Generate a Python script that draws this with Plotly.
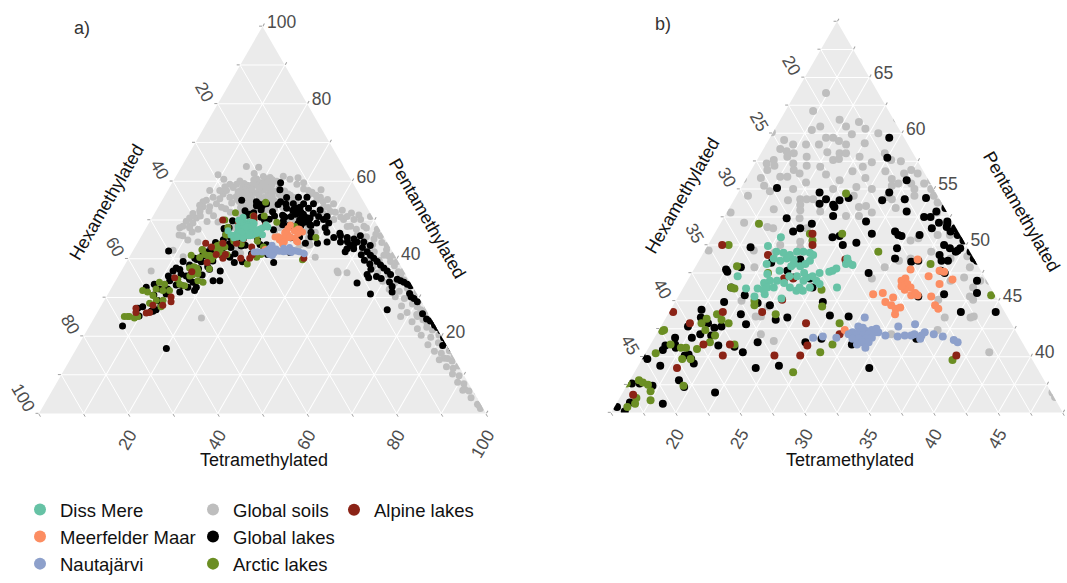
import plotly.graph_objects as go

FONT = "Liberation Sans, Arial, sans-serif"

# Relative abundance (%) of tetra-, penta- and hexamethylated brGDGTs.
# Each entry: (Tetramethylated, Pentamethylated); Hexamethylated = 100 - both.
global_soils = [
    (17.35, 63.6), (17.15, 62.0), (18.4, 60.6), (20.4, 60.6), (21.2, 61.0), (22.0, 60.4),
    (23.2, 60.0), (21.2, 59.9), (16.2, 59.4), (17.1, 59.0), (18.1, 59.0), (19.35, 59.6),
    (19.9, 59.6), (20.5, 59.3), (21.2, 59.0), (19.1, 59.0), (16.3, 58.6), (16.9, 58.4),
    (17.55, 58.2), (17.2, 57.9), (16.3, 57.6), (15.9, 57.3), (16.6, 57.1), (16.25, 56.7),
    (17.96, 57.3), (19.1, 57.1), (20.2, 57.0), (20.9, 57.6), (21.1, 58.2), (21.3, 57.7),
    (21.6, 58.2), (22.8, 57.9), (24.0, 57.4), (24.6, 58.2), (25.4, 57.6), (27.4, 56.7),
    (27.0, 56.4), (28.05, 56.4), (25.45, 56.6), (26.3, 55.9), (27.0, 55.5), (26.6, 55.3),
    (28.0, 55.5), (29.0, 55.5), (29.4, 55.8), (28.5, 55.0), (29.8, 55.0), (16.1, 56.0),
    (17.55, 56.1), (18.3, 56.7), (18.9, 56.4), (18.1, 56.1), (21.0, 56.3), (22.9, 56.6),
    (22.3, 55.8), (24.2, 56.0), (25.2, 55.0), (19.1, 55.0), (15.9, 54.4), (20.1, 54.1),
    (20.6, 54.1), (21.1, 54.1), (20.35, 53.6), (20.6, 53.1), (22.2, 53.0), (25.0, 53.4),
    (25.5, 53.5), (25.4, 52.6), (24.4, 52.6), (26.25, 52.9), (27.2, 54.1), (28.2, 54.1),
    (28.8, 54.4), (30.3, 54.4), (30.9, 53.8), (31.3, 52.9), (31.4, 53.8), (16.8, 52.0),
    (18.8, 51.6), (20.9, 52.4), (22.0, 50.3), (22.3, 49.7), (21.9, 51.5), (28.9, 51.2),
    (30.5, 50.4), (31.0, 50.6), (32.35, 50.9), (33.3, 50.9), (32.6, 49.4), (30.5, 48.6),
    (31.3, 48.8), (34.4, 48.8), (35.6, 49.0), (36.3, 48.0), (29.2, 47.0), (29.7, 48.0),
    (36.3, 47.1), (35.4, 46.8), (37.45, 46.2), (37.7, 46.8), (38.4, 46.8), (37.6, 45.4),
    (38.0, 45.1), (35.3, 45.1), (36.6, 43.5), (38.8, 43.6), (38.6, 43.5), (41.6, 40.4),
    (48.7, 36.4), (15.3, 49.5), (19.6, 48.0), (18.8, 49.5), (20.5, 49.3), (20.1, 45.0),
    (22.3, 43.6), (24.4, 41.4), (23.1, 42.0), (33.2, 42.0), (36.6, 42.4), (21.9, 43.6),
    (22.4, 44.5), (19.2, 54.0), (22.2, 55.0), (15.3, 52.9), (19.3, 51.5), (20.6, 50.0),
    (17.9, 60.3), (19.6, 61.2), (22.6, 59.1), (18.7, 57.9), (20.1, 58.3), (23.5, 57.0),
    (26.2, 57.5), (19.8, 55.6), (23.9, 55.2), (27.9, 53.3), (24.1, 54.4), (26.8, 54.3),
    (17.4, 54.8), (18.5, 53.2), (16.7, 55.3),
    (37.8, 51.7), (40.9, 50.1), (43.1, 50.1), (46.9, 50.1), (48.7, 50.9), (51.9, 47.6),
    (53.45, 45.9), (56.2, 43.4), (58.95, 40.9), (60.5, 39.3), (63.6, 37.6), (66.35, 35.1),
    (69.1, 32.6), (71.5, 29.3), (74.2, 26.8), (76.6, 25.1), (80.5, 21.8), (83.6, 18.5),
    (86.4, 16.0), (88.7, 14.3), (90.3, 12.6), (92.3, 10.1), (94.7, 6.8), (96.7, 4.3),
    (50.7, 36.4), (72.1, 25.1), (73.1, 27.6), (67.7, 30.9), (62.95, 35.9), (59.0, 39.3),
    (56.7, 40.9), (89.2, 11.8), (85.3, 15.1), (77.7, 24.3), (75.4, 26.0), (68.9, 31.4),
    (48.5, 48.4), (45.4, 50.1), (45.5, 48.4), (93.1, 8.5), (95.3, 5.6), (72.0, 26.8),
    (63.25, 36.8), (57.45, 40.9), (52.4, 45.1), (81.75, 19.3), (84.8, 17.6), (91.8, 6.0),
    (83.5, 14.3), (68.35, 25.1), (48.3, 36.8), (38.8, 54.2), (43.5, 50.9), (45.9, 51.3),
    (44.8, 48.3), (47.2, 47.6), (49.3, 47.9), (48.1, 46.2), (50.4, 45.7), (52.2, 46.3),
    (50.9, 44.1), (52.8, 43.7), (54.6, 44.2), (52.3, 42.4), (54.1, 41.8), (56.6, 42.3),
    (53.8, 40.2), (56.3, 39.6), (58.2, 40.5), (55.7, 38.1), (57.9, 37.6), (60.4, 38.2),
    (57.6, 36.3), (60.2, 35.8), (62.1, 36.6), (59.8, 34.2), (62.7, 33.7), (64.4, 34.5),
    (62.3, 32.1), (64.8, 31.6), (66.2, 32.4), (64.6, 30.2), (66.9, 29.7), (68.3, 30.4),
    (67.2, 27.8), (69.4, 28.3), (70.8, 27.6), (69.3, 26.1), (71.7, 25.6), (73.2, 26.2),
    (71.6, 23.7), (73.8, 24.2), (75.1, 23.4), (73.7, 21.9), (75.6, 22.3), (77.2, 21.6),
    (75.4, 20.2), (77.8, 19.7), (79.3, 20.3), (78.1, 17.8), (80.2, 18.3), (81.6, 17.5),
    (80.4, 16.1), (82.2, 15.6), (83.7, 16.2), (82.6, 13.9), (84.3, 14.2), (85.6, 13.6),
    (85.1, 12.1), (86.8, 11.7), (87.7, 12.3), (87.4, 10.2), (89.1, 9.8), (89.6, 8.1),
    (91.2, 7.7), (92.1, 6.3), (93.3, 5.8), (94.6, 4.1), (96.9, 2.4), (98.1, 1.3),
    (97.5, 2.0),
    (32.5, 57.15), (35.0, 55.9), (32.3, 56.7), (34.6, 55.1), (37.0, 53.4), (39.1, 52.2),
    (30.2, 58.0), (28.1, 59.2), (25.9, 60.5), (24.0, 61.3), (31.5, 57.6), (33.8, 56.4),
    (36.2, 54.7), (38.1, 53.2), (40.3, 52.0), (42.1, 50.8), (36.9, 55.3), (34.2, 57.8),
    (29.4, 59.6), (27.5, 60.9), (41.6, 52.5), (44.0, 51.8),
    (9.2, 61.7), (10.0, 53.4), (9.9, 52.2), (9.95, 50.5), (8.45, 50.5), (8.1, 49.7),
    (8.6, 51.7), (9.9, 55.1), (11.0, 55.9), (12.7, 55.5), (12.85, 56.7), (13.15, 57.6),
    (14.25, 58.4), (14.6, 59.2), (14.9, 60.1), (7.5, 48.0), (9.25, 45.9), (8.9, 42.2),
    (9.5, 48.4), (11.5, 53.4), (12.6, 54.2), (9.35, 54.7), (14.75, 55.9), (9.8, 49.25),
    (9.05, 53.8), (6.7, 36.8), (8.0, 48.4), (9.7, 52.6), (9.4, 57.6), (11.65, 57.6),
    (13.1, 59.2), (14.5, 63.8), (12.0, 40.5), (24.0, 24.7), (9.7, 48.0), (11.8, 47.6),
    (13.4, 44.3), (10.6, 51.0), (11.9, 52.3), (12.8, 49.6), (10.8, 46.9), (13.5, 51.1),
    (14.2, 53.3), (12.3, 58.6), (11.1, 60.5), (10.9, 44.8), (8.3, 46.1),
]

global_lakes = [
    (24.25, 59.6), (25.0, 57.8), (27.5, 55.8), (26.5, 54.0), (28.2, 54.1), (29.8, 54.2),
    (31.75, 53.3), (30.5, 52.5), (31.0, 52.5), (31.9, 52.0), (32.6, 51.9), (32.7, 51.6),
    (33.4, 51.5), (33.2, 51.2), (31.6, 51.5), (28.9, 51.2), (29.3, 50.9), (29.6, 50.8),
    (30.95, 50.9), (33.9, 50.9), (34.6, 50.4), (33.3, 50.0), (33.9, 49.7), (34.6, 49.5),
    (34.7, 49.7), (35.65, 49.4), (33.4, 49.1), (36.2, 48.8), (36.55, 48.6), (33.8, 48.6),
    (34.3, 48.6), (34.6, 47.5), (31.5, 48.5), (29.8, 49.7), (30.1, 48.8), (37.45, 46.8),
    (38.0, 45.7), (40.3, 44.0), (37.6, 44.0), (35.5, 45.6), (33.6, 45.4), (17.8, 55.1),
    (21.3, 54.7), (22.1, 54.1), (23.2, 54.0), (21.8, 53.7), (22.9, 53.6), (23.1, 53.4),
    (23.8, 54.2), (23.4, 52.6), (19.9, 52.4), (21.4, 51.5), (21.0, 51.2), (22.1, 51.9),
    (24.3, 50.7), (24.8, 50.8), (25.45, 50.0), (26.4, 50.2), (27.2, 51.0), (26.2, 52.1),
    (18.4, 49.8), (20.7, 48.4), (22.8, 48.7), (26.4, 48.6), (28.7, 47.5), (25.0, 46.2),
    (22.3, 47.7), (23.1, 47.1), (24.4, 47.0), (17.5, 47.8), (17.7, 47.6), (18.55, 48.0),
    (18.7, 46.2), (20.1, 45.5), (18.8, 44.9), (22.5, 44.6), (20.65, 43.8), (21.45, 44.8),
    (17.4, 44.2), (17.7, 43.5), (18.5, 43.0), (17.1, 42.7), (18.4, 42.0), (19.2, 42.6),
    (19.7, 42.7), (19.3, 41.9), (17.9, 41.7), (16.6, 41.7), (16.9, 41.1), (16.2, 41.0),
    (17.1, 40.8), (18.4, 40.2), (16.2, 40.6), (15.4, 39.8), (22.5, 40.4), (23.2, 41.3),
    (24.4, 43.5), (21.5, 42.9), (20.3, 41.0), (18.8, 39.8), (16.7, 39.2), (18.8, 37.9),
    (19.5, 37.3), (22.15, 36.8), (18.6, 35.8), (15.9, 37.6), (16.0, 35.9), (24.2, 39.0),
    (25.9, 39.2), (26.9, 41.3), (28.0, 41.6), (27.6, 43.7), (29.1, 43.6), (30.6, 41.1),
    (26.45, 44.9), (33.0, 39.0), (35.35, 41.6), (26.7, 54.7), (28.9, 53.0), (31.2, 53.0),
    (32.5, 52.1), (34.6, 50.6), (34.5, 49.4), (32.0, 48.6), (34.2, 47.7), (23.6, 43.3),
    (21.6, 40.9), (18.15, 40.1), (19.2, 39.4), (17.0, 37.4), (16.0, 35.1),
    (41.0, 46.8), (43.2, 45.5), (44.5, 45.9), (46.2, 45.5), (47.9, 45.1), (49.0, 44.3),
    (50.5, 44.3), (52.4, 43.4), (47.95, 43.4), (47.6, 42.6), (42.3, 44.3), (47.6, 41.8),
    (52.5, 41.8), (53.7, 40.9), (54.85, 40.1), (56.0, 39.3), (57.2, 38.4), (59.5, 36.8),
    (60.7, 35.9), (62.8, 34.7), (63.75, 34.3), (65.7, 33.4), (66.65, 33.0), (69.05, 29.7),
    (70.2, 28.9), (55.45, 35.9), (56.2, 35.1), (54.3, 33.7), (58.7, 30.9), (63.3, 31.4),
    (64.5, 26.8), (76.6, 23.5), (78.0, 22.2), (79.15, 22.2), (79.2, 21.4), (81.5, 17.6),
    (83.4, 17.5), (84.1, 16.8), (85.7, 15.8), (48.95, 45.9), (58.35, 37.6), (64.7, 33.9),
    (45.3, 44.3), (49.1, 42.6), (44.0, 46.6), (46.8, 44.4), (48.6, 43.6), (50.9, 42.9),
    (51.6, 41.0), (53.0, 39.6), (54.7, 38.6), (55.6, 37.3), (57.8, 35.4), (59.1, 34.9),
    (61.4, 34.0), (62.6, 32.8), (67.4, 31.0), (68.2, 30.1), (72.9, 25.8), (74.5, 24.4),
    (75.6, 23.9), (77.1, 22.8), (80.7, 19.6), (81.9, 18.4), (86.3, 15.2), (87.2, 14.6),
    (30.1, 55.9), (32.1, 54.2), (33.8, 53.0), (35.5, 51.75), (37.1, 50.9), (38.6, 50.1),
    (40.2, 49.25), (35.4, 50.5), (37.5, 49.25), (40.0, 48.0), (39.0, 50.9), (36.6, 52.6),
    (34.3, 54.2), (32.0, 55.9),
    (8.0, 42.0), (11.9, 37.6), (12.9, 37.2), (11.6, 36.8), (15.3, 37.6), (15.2, 35.5),
    (17.5, 33.9), (18.9, 32.6), (18.9, 31.8), (15.8, 31.4), (12.1, 34.3), (12.7, 32.2),
    (10.9, 32.2), (9.1, 33.4), (13.0, 30.9), (12.8, 26.8), (12.3, 26.4), (9.4, 27.6),
    (7.4, 22.6), (20.1, 16.8), (23.3, 34.3), (14.5, 38.4), (12.6, 39.3), (8.5, 27.2),
    (11.9, 26.4), (13.3, 28.0), (7.7, 32.6), (17.0, 32.6), (21.8, 34.3), (14.8, 40.1),
    (11.2, 35.5), (13.8, 36.0), (14.1, 33.2), (10.4, 30.6), (12.0, 29.2), (15.6, 33.0),
    (16.4, 34.6), (9.8, 25.2),
]

arctic_lakes = [
    (23.4, 54.6), (18.0, 51.9), (22.4, 51.0), (22.9, 50.4), (24.9, 51.0), (16.6, 50.0),
    (18.2, 48.1), (20.9, 47.5), (18.7, 46.2), (19.0, 46.1), (28.5, 49.4), (33.1, 48.3),
    (39.2, 45.5), (21.1, 45.0), (21.3, 44.6), (23.35, 43.8), (25.8, 46.0), (26.6, 44.5),
    (28.7, 43.0), (18.8, 43.8), (19.4, 43.3), (18.0, 43.0), (18.6, 42.4), (19.6, 41.9),
    (15.3, 42.3), (15.4, 42.4), (16.55, 41.1), (17.5, 40.8), (17.9, 40.8), (19.5, 41.3),
    (18.8, 40.7), (15.8, 40.3), (18.1, 39.8), (28.5, 40.4), (29.1, 41.1), (27.3, 38.6),
    (39.1, 39.7), (15.7, 37.9), (16.1, 37.7), (16.6, 37.5), (17.1, 36.9), (17.5, 36.1),
    (16.3, 36.3), (16.45, 35.8), (16.0, 35.5), (21.5, 41.1), (18.2, 43.4), (20.1, 43.0),
    (18.75, 39.8), (19.4, 37.4), (11.4, 33.4), (10.0, 33.9), (11.8, 31.8), (13.3, 31.8),
    (14.8, 33.4), (8.6, 31.4), (10.5, 28.5), (11.6, 29.3), (13.1, 29.3), (13.5, 27.6),
    (7.7, 25.1), (9.0, 24.7), (9.55, 25.1), (19.75, 33.9), (13.6, 40.9), (10.1, 32.2),
    (13.7, 34.7), (14.9, 37.6), (16.1, 33.0), (6.55, 25.1), (7.3, 25.1), (7.3, 31.8),
    (10.25, 30.5), (18.4, 34.3),
]

alpine_lakes = [
    (16.1, 50.0), (22.6, 51.0), (23.1, 50.0), (23.1, 47.0), (22.4, 47.0), (26.3, 48.7),
    (15.3, 44.0), (17.1, 43.0), (19.15, 44.0), (22.2, 44.0), (23.2, 45.1), (26.1, 43.0),
    (29.2, 42.0), (19.1, 41.1), (21.15, 41.1), (18.1, 39.0), (21.1, 40.1), (25.1, 40.1),
    (27.1, 40.1), (39.2, 40.1), (15.9, 36.6), (20.1, 49.1), (27.2, 41.0), (12.8, 35.1),
    (14.5, 30.1), (11.5, 28.0), (11.0, 26.0), (11.7, 26.1), (8.65, 26.1), (15.1, 28.9),
    (8.1, 27.2), (13.7, 28.0),
]

diss_mere = [
    (20.3, 50.7), (19.7, 49.9), (20.6, 49.4), (21.2, 49.3), (21.8, 49.1), (22.2, 49.4),
    (22.7, 49.4), (23.25, 49.3), (23.6, 49.1), (21.7, 48.8), (22.3, 48.7), (21.3, 48.6),
    (20.7, 48.8), (20.4, 48.3), (22.5, 48.3), (23.1, 48.1), (21.7, 47.7), (23.6, 48.6),
    (20.9, 47.4), (21.4, 46.8), (21.05, 46.6), (21.5, 46.2), (22.0, 46.2), (20.8, 46.1),
    (21.3, 46.0), (22.6, 46.6), (23.25, 46.2), (23.9, 45.9), (24.4, 45.9), (24.8, 46.2),
    (24.0, 46.8), (24.1, 47.1), (24.5, 47.2), (25.0, 46.8), (25.4, 46.5), (25.6, 47.6),
    (25.8, 47.7), (26.0, 47.9), (26.55, 48.3), (27.1, 48.2), (26.7, 48.4), (26.4, 48.8),
    (18.7, 47.2), (19.9, 46.1), (20.9, 45.4), (23.1, 45.2), (22.7, 47.2), (21.95, 46.8),
    (26.9, 46.2), (23.7, 47.5), (23.3, 47.2), (24.0, 46.2), (22.4, 48.1), (23.4, 48.3),
    (21.6, 45.6), (24.9, 47.5),
]

meerfelder_maar = [
    (31.9, 48.7), (31.8, 47.8), (34.1, 47.7), (34.5, 47.6), (33.5, 47.2), (35.5, 46.9),
    (31.8, 47.0), (31.6, 46.8), (32.2, 46.5), (32.6, 46.2), (32.25, 46.0), (33.2, 45.7),
    (33.0, 45.5), (33.5, 45.5), (34.6, 45.4), (34.7, 46.5), (30.0, 45.6), (30.7, 45.7),
    (31.3, 44.9), (31.7, 45.3), (31.9, 44.6), (32.4, 44.3), (32.7, 44.4), (32.6, 43.8),
    (35.3, 44.6), (35.7, 44.3), (29.4, 42.4), (31.85, 46.3), (33.3, 45.6),
]

nautajarvi = [
    (30.4, 43.5), (30.3, 42.7), (30.1, 42.2), (30.6, 42.2), (31.1, 42.3), (31.5, 42.4),
    (31.9, 42.2), (31.45, 42.0), (31.0, 41.9), (30.5, 41.9), (29.9, 42.0), (30.4, 41.6),
    (30.9, 41.6), (31.4, 41.6), (31.85, 41.7), (32.1, 42.2), (32.8, 41.9), (31.3, 41.3),
    (31.8, 41.3), (31.0, 41.1), (31.8, 40.8), (33.4, 42.7), (34.6, 42.9), (35.7, 42.2),
    (35.6, 41.9), (35.0, 42.0), (34.3, 41.9), (34.8, 41.9), (36.5, 42.0), (37.3, 41.8),
    (38.3, 41.5), (38.7, 41.3), (27.3, 41.7), (28.0, 41.8), (29.1, 41.7), (30.7, 42.6),
    (31.8, 42.5), (33.8, 41.8), (35.65, 41.6),
]

# name, data, colour, legend column (drawing order = list order)
groups = [
    ("Global soils", global_soils, "#BEBEBE", "legend2"),
    ("Global lakes", global_lakes, "#000000", "legend2"),
    ("Arctic lakes", arctic_lakes, "#6B8E23", "legend2"),
    ("Alpine lakes", alpine_lakes, "#8B2316", "legend3"),
    ("Diss Mere", diss_mere, "#66C2A5", "legend"),
    ("Meerfelder Maar", meerfelder_maar, "#FC8D62", "legend"),
    ("Nautajärvi", nautajarvi, "#8DA0CB", "legend"),
]

TOTAL = 100
TICK_FONT = dict(family=FONT, size=17.5, color="#4D4D4D")


def edge_ticks(lo, hi, step, offset, shown):
    """Grid values of one axis plus the labels of the neighbouring component
    that is read off along the same edge (offset - value)."""
    vals, texts = [], []
    n = int(round((hi - lo) / step))
    for i in range(n + 1):
        v = lo + i * step
        lab = round(offset - v, 6)
        vals.append(v)
        texts.append(f"{lab:g}" if lab in shown else "")
    return vals, texts


def ternary(domain_x, domain_y, amin, bmin, cmin, step, shown):
    amax = TOTAL - bmin - cmin
    bmax = TOTAL - amin - cmin
    cmax = TOTAL - amin - bmin
    # left edge carries hexamethylated, bottom tetramethylated, right pentamethylated
    av, at = edge_ticks(amin, amax, step, TOTAL - cmin, shown["hexa"])
    bv, bt = edge_ticks(bmin, bmax, step, TOTAL - amin, shown["tetra"])
    cv, ct = edge_ticks(cmin, cmax, step, TOTAL - bmin, shown["penta"])
    common = dict(showgrid=True, gridcolor="white", gridwidth=1, showline=False,
                  ticks="outside", ticklen=3, tickcolor="#A0A0A0", tickwidth=1,
                  tickfont=TICK_FONT, tickmode="array", layer="below traces",
                  title=dict(text=""))
    return dict(
        domain=dict(x=domain_x, y=domain_y),
        sum=TOTAL,
        bgcolor="#EBEBEB",
        aaxis=dict(min=amin, tickvals=av, ticktext=at, tickangle=60, **common),
        baxis=dict(min=bmin, tickvals=bv, ticktext=bt, tickangle=-60, **common),
        caxis=dict(min=cmin, tickvals=cv, ticktext=ct, tickangle=0, **common),
    )


fig = go.Figure()

for sub, size, show in (("ternary", 7, True), ("ternary2", 8, False)):
    for name, pts, color, leg in groups:
        tetra = [p[0] for p in pts]
        penta = [p[1] for p in pts]
        hexa = [round(TOTAL - t - p, 2) for t, p in pts]
        fig.add_trace(go.Scatterternary(
            a=penta, b=hexa, c=tetra, mode="markers", name=name,
            subplot=sub, legend=leg, legendgroup=name, showlegend=show,
            marker=dict(size=size, color=color, line=dict(width=0)),
            hovertemplate="Tetra %{c:.1f}<br>Penta %{a:.1f}<br>Hexa %{b:.1f}<extra>" + name + "</extra>",
        ))

W, H = 1067, 583


def px(x, y):
    return x / W, 1 - y / H


full_labels = {"hexa": {20, 40, 60, 80, 100}, "tetra": {20, 40, 60, 80, 100},
               "penta": {20, 40, 60, 80, 100}}
zoom_labels = {"hexa": {20, 25, 30, 35, 40, 45}, "tetra": {20, 25, 30, 35, 40, 45},
               "penta": {40, 45, 50, 55, 60, 65}}

legend_common = dict(orientation="v", yanchor="top", xanchor="left", bgcolor="rgba(0,0,0,0)",
                     itemsizing="constant", font=dict(family=FONT, size=18.5, color="#111111"),
                     tracegroupgap=0)

annotations = []
titles = [
    ("a)", 82, 29, 0, "#333333"), ("b)", 663, 25, 0, "#333333"),
    ("Tetramethylated", 264, 470, 0, "#111111"),
    ("Hexamethylated", 107, 207, -60, "#111111"),
    ("Pentamethylated", 427, 223, 60, "#111111"),
    ("Tetramethylated", 850, 470, 0, "#111111"),
    ("Hexamethylated", 682, 200, -60, "#111111"),
    ("Pentamethylated", 1021, 216, 60, "#111111"),
]
for text, x, y, ang, col in titles:
    xx, yy = px(x, y)
    annotations.append(dict(text=text, x=xx, y=yy, xref="paper", yref="paper",
                            showarrow=False, textangle=ang, xanchor="center",
                            yanchor="middle", font=dict(family=FONT, size=18, color=col)))

fig.update_layout(
    width=W, height=H, autosize=False,
    margin=dict(l=0, r=0, t=0, b=0),
    paper_bgcolor="white", plot_bgcolor="white",
    font=dict(family=FONT),
    ternary=ternary([0.016, 0.476], [1 - 423 / H, 1 - 27 / H], 0, 0, 0, 10, full_labels),
    ternary2=ternary([607 / W, 1.0], [1 - 422 / H, 1 - 22 / H], 35, 15, 15, 2.5, zoom_labels),
    legend=dict(x=20 / W, y=1 - 502.5 / H, **legend_common),
    legend2=dict(x=193 / W, y=1 - 502.5 / H, **legend_common),
    legend3=dict(x=334 / W, y=1 - 502.5 / H, **legend_common),
    annotations=annotations,
)

fig.write_html("out.html")
